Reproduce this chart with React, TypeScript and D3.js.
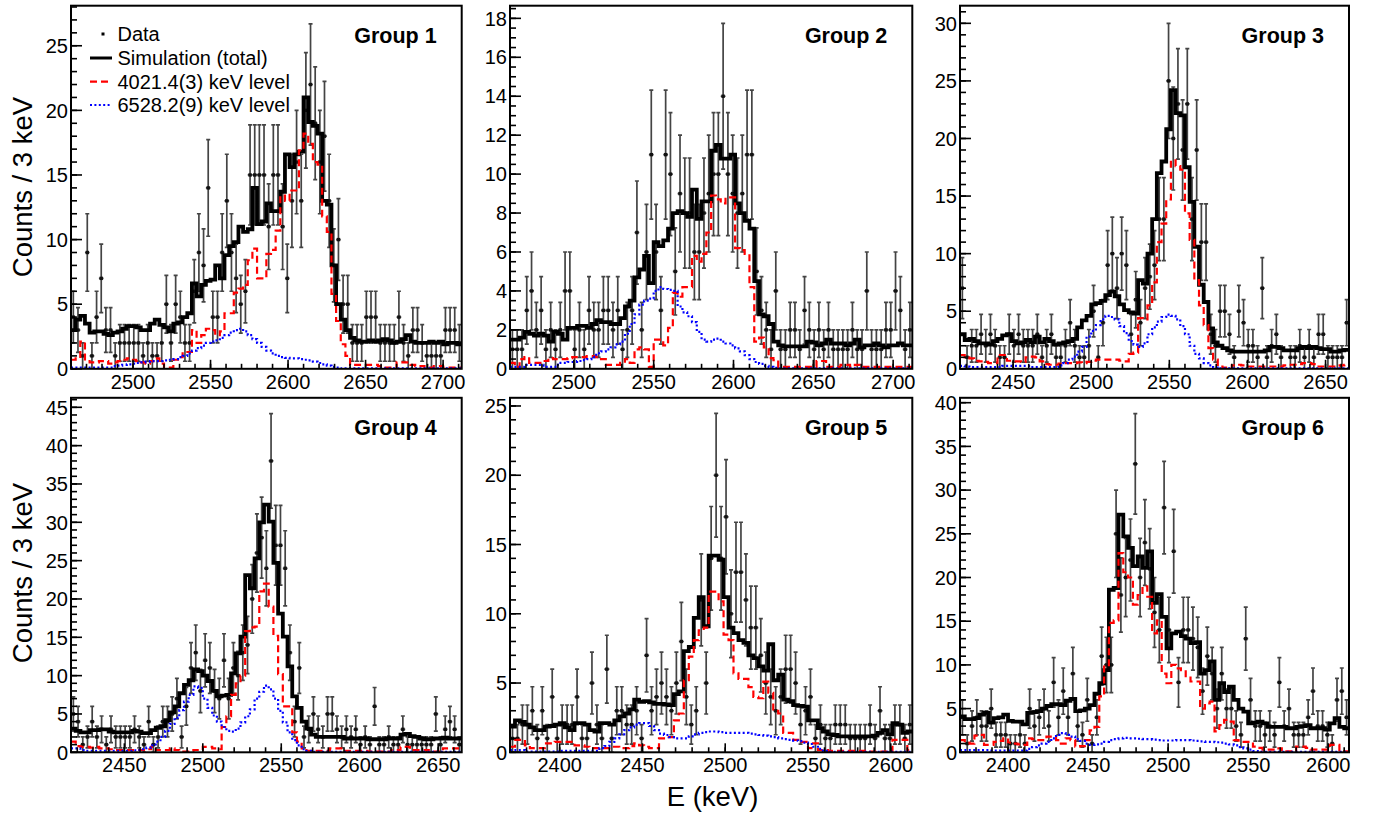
import React from 'react';
import * as d3 from 'd3';

// ---------------- data (counts per 3 keV bin) ----------------
const TITLES = ['Group 1', 'Group 2', 'Group 3', 'Group 4', 'Group 5', 'Group 6'];
const X_DOMAIN: [number, number][] = [[2460, 2712], [2460, 2712], [2416, 2665], [2416, 2665], [2370, 2613], [2370, 2613]];
const Y_MAX = [28.1, 18.65, 31.53, 46.24, 25.59, 40.56];
const Y_MAJOR = [5, 2, 5, 5, 5, 5];
const Y_MINOR = [1, 0.5, 1, 1, 1, 1];
const X_LABELS = [
  [2500, 2550, 2600, 2650, 2700],
  [2500, 2550, 2600, 2650, 2700],
  [2450, 2500, 2550, 2600, 2650],
  [2450, 2500, 2550, 2600, 2650],
  [2400, 2450, 2500, 2550, 2600],
  [2400, 2450, 2500, 2550, 2600],
];
const LEGEND_LABELS = ['Data', 'Simulation (total)', '4021.4(3) keV level', '6528.2(9) keV level'];

const G1_TOTAL = [3.0,3.8,4.1,3.5,2.8,2.9,2.9,2.7,2.6,2.8, 2.9,3.1,3.3,3.3,3.2,3.0,3.0,3.5,3.8,3.4, 3.2,2.9,3.5,3.6,4.0,4.3,6.6,5.6,6.5,6.8, 6.9,8.0,7.0,8.8,9.5,9.8,11.0,10.6,10.8,14.0, 11.2,11.4,12.8,12.2,12.2,13.7,16.6,15.6,16.6,16.8, 21.0,19.1,18.8,18.2,13.0,12.7,8.0,5.0,3.8,3.0, 2.4,2.2,2.1,2.1,2.2,2.1,2.2,2.3,2.2,2.0, 2.1,2.3,2.6,2.1,2.0,2.0,2.0,2.1,2.0,2.1, 1.9,2.0,2.0,1.9];
const G1_LOW = [0.7,0.8,2.1,0.6,0.5,0.5,0.6,0.6,0.4,0.5, 0.6,0.7,0.8,0.7,0.6,0.5,0.4,0.6,0.8,0.4, 0.1,0.1,0.7,0.9,1.3,1.3,3.0,2.0,2.6,3.1, 3.0,2.6,2.9,4.3,4.3,5.9,6.2,6.5,8.4,9.3, 7.0,7.0,8.9,9.2,10.7,13.4,13.0,13.8,13.8,16.9, 18.2,17.4,16.0,15.8,11.8,10.6,5.8,3.7,1.9,1.0, 0.3,0.3,0.3,0.3,0.3,0.3,0.2,0.1,0.1,0.1, 0.5,0.5,0.5,0.3,0.2,0.2,0.1,0.1,0.2,0.2, 0.1,0.1,0.1,0.1];
const G1_HIGH = [0.1,0.1,0.1,0.1,0.1,0.1,0.1,0.1,0.1,0.2, 0.25,0.3,0.35,0.4,0.45,0.5,0.55,0.6,0.6,0.6, 0.65,0.7,0.75,0.9,1.0,1.2,1.4,1.6,1.8,2.0, 2.1,2.2,2.4,2.6,2.8,3.0,3.1,2.9,2.6,2.3, 2.0,1.7,1.4,1.2,1.0,0.9,0.85,0.8,0.8,0.75, 0.7,0.65,0.55,0.45,0.35,0.25,0.15,0.1,0.03,0.03, 0.03,0.03,0.03,0.03,0.03,0.03,0.03,0.03,0.03,0.03, 0.03,0.03,0.03,0.03,0.03,0.03,0.03,0.03,0.03,0.03, 0.03,0.03,0.03,0.03];
const G1_DATA = [4,3,1,9,1,4,7,3,3,1, 2,2,2,2,2,1,2,1,1,2, 5,2,5,4,2,2,6,9,8,14, 4,4,9,13,9,7,5,6,15,15, 15,15,11,15,15,11,7,13,16,13, 20,22,19,16,18,13,8,10,5,5, 2,2,2,4,4,4,2,2,2,2, 4,2,1,3,3,2,1,1,1,1, 3,3,3,2];

const G2_TOTAL = [1.5,1.5,1.6,1.9,1.8,1.7,1.8,1.7,1.4,1.9, 1.8,1.5,2.1,2.1,2.2,2.2,2.1,2.3,2.5,2.4, 2.4,2.3,2.3,2.6,3.2,3.5,4.7,5.1,5.8,4.4, 6.5,6.3,6.6,7.2,8.0,8.1,8.0,7.8,9.2,7.7, 8.6,8.6,11.2,11.5,10.8,10.8,11.0,8.5,8.0,7.6, 7.2,4.5,2.8,2.7,2.3,1.4,1.2,1.15,1.15,1.15, 1.15,1.15,1.4,1.35,1.2,1.3,1.5,1.3,1.3,1.3, 1.2,1.3,1.5,1.1,1.2,1.2,1.3,1.2,1.1,1.2, 1.2,1.3,1.2,1.2];
const G2_LOW = [0.3,0.1,0.5,0.6,0.3,0.3,0.3,0.4,0.55,0.5, 0.5,0.5,0.55,0.6,0.6,0.6,0.65,0.65,0.6,0.5, 0.2,0.2,0.2,0.3,0.5,0.3,1.0,1.1,1.0,0.1, 1.5,1.5,1.2,2.1,3.9,3.7,4.2,4.2,5.8,5.5, 5.9,7.0,8.9,8.7,8.5,8.8,8.8,6.2,6.1,5.9, 4.2,1.4,1.6,1.1,0.55,0.45,0.1,0.1,0.1,0.1, 0.1,0.1,0.1,0.1,0.4,0.4,0.1,0.1,0.1,0.2, 0.2,0.1,0.2,0.1,0.1,0.1,0.1,0.1,0.1,0.1, 0.1,0.1,0.1,0.1];
const G2_HIGH = [0.1,0.1,0.1,0.2,0.2,0.2,0.2,0.1,0.1,0.1, 0.3,0.3,0.35,0.35,0.4,0.45,0.5,0.6,0.8,0.9, 1.0,1.1,1.25,1.4,1.8,2.3,2.8,3.3,3.5,3.6, 4.0,4.2,4.1,4.05,4.0,3.2,2.9,2.7,2.4,1.9, 1.5,1.4,1.5,1.55,1.4,1.3,1.2,1.05,0.9,0.7, 0.5,0.35,0.25,0.15,0.1,0.05,0.02,0.02,0.02,0.02, 0.02,0.02,0.02,0.02,0.02,0.02,0.02,0.02,0.02,0.02, 0.02,0.02,0.02,0.02,0.02,0.02,0.02,0.02,0.02,0.02, 0.02,0.02,0.02,0.02];
const G2_DATA = [1,1,1,3,4,2,3,1,2,1, 2,4,4,1,2,1,3,2,2,3, 3,2,3,1,2,3,7,2,6,11, 6,3,11,10,5,9,8,8,6,6, 8,9,10,10,14,10,9,8,9,11, 11,5,3,2,1,4,1,1,2,2, 1,3,2,1,2,1,2,1,1,1, 1,2,1,1,4,1,1,1,2,2, 4,3,1,2];

const G3_TOTAL = [3.0,2.5,2.6,2.4,2.2,2.2,2.1,2.4,2.6,2.9, 3.0,2.4,2.2,2.3,2.5,2.3,2.8,2.3,2.6,2.4, 2.1,2.2,2.3,2.4,2.6,3.6,4.2,4.6,5.6,5.7, 5.9,6.4,6.7,6.3,5.6,5.1,4.9,4.8,7.7,7.4, 10.0,13.0,17.0,18.0,20.8,24.2,22.2,22.0,17.5,14.5, 10.6,7.3,5.8,3.5,2.3,2.0,1.8,1.6,1.5,1.5, 1.5,1.5,1.5,1.5,1.5,1.6,1.9,1.9,1.8,1.6, 1.6,1.6,1.8,1.9,1.8,1.9,1.8,1.7,1.7,1.5, 1.5,1.6,1.65];
const G3_LOW = [1.2,1.0,0.9,0.7,0.65,0.6,0.5,0.5,1.2,1.2, 0.7,0.65,0.65,0.6,1.0,1.05,1.0,0.65,0.4,0.35, 0.35,0.45,0.5,0.5,0.5,0.55,0.5,0.6,0.7,0.8, 0.8,0.8,0.8,0.8,0.7,0.65,1.3,1.4,4.4,4.3, 5.5,7.5,11.0,12.6,14.7,18.1,17.6,17.3,13.5,11.2, 7.7,5.5,3.8,1.8,0.8,0.2,0.1,0.05,0.3,0.35, 0.3,0.2,0.2,0.2,0.2,0.2,0.2,0.2,0.2,0.3, 0.35,0.35,0.4,0.5,0.5,0.4,0.2,0.2,0.2,0.2, 0.2,0.3,0.35];
const G3_HIGH = [0.25,0.2,0.15,0.15,0.15,0.15,0.15,0.15,0.15,0.25, 0.25,0.25,0.25,0.25,0.25,0.15,0.15,0.15,0.15,0.15, 0.15,0.3,0.5,0.8,1.05,1.5,1.9,2.8,3.3,3.8, 4.3,4.6,4.5,4.3,3.7,3.1,2.4,2.1,1.9,2.2, 3.0,3.6,4.1,4.5,4.7,4.6,4.3,3.7,3.0,2.0, 1.3,0.9,0.5,0.3,0.1,0.03,0.03,0.03,0.03,0.03, 0.03,0.03,0.03,0.03,0.03,0.03,0.03,0.03,0.03,0.03, 0.03,0.03,0.03,0.03,0.03,0.03,0.03,0.03,0.03,0.03, 0.03,0.03,0.03];
const G3_DATA = [7,1,2,2,3,2,3,2,1,1, 3,2,3,2,2,2,3,1,2,3, 1,1,2,4,2,1,1,2,5,1, 4,9,10,7,10,9,3,6,4,7, 8,9,13,13,25,20,23,19,23,13, 19,11,11,3,2,5,5,3,1,5, 4,2,2,1,7,1,2,3,1,0, 1,1,2,1,2,1,3,3,1,1, 1,1,4];

const G4_TOTAL = [3.1,2.8,2.6,2.6,2.9,2.9,3.0,3.0,2.7,2.6, 2.6,2.6,2.6,2.8,2.7,2.5,2.5,2.9,3.2,3.4, 4.2,5.2,6.0,7.7,8.8,9.4,10.8,10.6,10.0,9.3, 8.0,7.3,7.4,7.5,10.3,12.9,15.1,23.1,21.4,25.3, 30.0,32.3,30.1,24.7,18.1,15.1,11.2,7.3,5.8,4.0, 3.1,2.3,2.0,2.0,2.0,2.0,2.0,2.0,1.8,1.8, 1.8,1.8,1.8,1.7,1.7,1.7,1.7,1.8,1.8,1.8, 2.3,2.4,2.1,2.0,1.8,1.7,1.7,1.8,1.8,1.9, 1.8,1.8,1.8];
const G4_LOW = [1.4,0.8,0.7,0.7,0.6,0.7,0.5,0.5,0.4,0.3, 0.3,0.3,0.3,0.3,0.3,0.3,0.4,0.7,0.3,0.3, 0.3,0.5,0.3,0.1,0.1,0.1,0.3,0.3,0.7,0.7, 0.5,0.4,3.3,4.7,7.5,9.0,10.0,15.8,16.3,16.4, 21.0,22.0,19.0,15.2,10.2,6.0,6.0,2.6,1.4,0.5, 0.2,0.2,0.2,0.2,0.2,0.5,0.5,0.5,0.2,0.2, 0.2,0.2,0.2,0.1,0.1,0.1,0.1,0.1,0.3,0.3, 0.7,0.7,0.3,0.3,0.3,0.3,0.1,0.1,0.1,0.5, 0.5,0.5,0.5];
const G4_HIGH = [0.5,0.5,0.3,0.2,0.2,0.2,0.2,0.2,0.2,0.2, 0.2,0.2,0.2,0.25,0.3,0.4,0.6,0.9,1.4,2.0, 2.8,3.7,4.5,5.5,6.6,7.5,8.6,8.4,7.0,5.8, 4.8,4.0,3.3,2.8,2.7,3.1,3.9,4.7,5.6,7.0, 7.9,8.7,8.2,7.0,5.4,3.9,2.6,1.6,0.9,0.4, 0.2,0.05,0.05,0.05,0.05,0.05,0.05,0.05,0.05,0.05, 0.05,0.05,0.05,0.05,0.05,0.05,0.05,0.05,0.05,0.05, 0.05,0.05,0.05,0.05,0.05,0.05,0.05,0.05,0.05,0.05, 0.05,0.05,0.05];
const G4_DATA = [5,4,1,2,4,2,3,1,3,2, 2,2,2,3,2,1,4,1,2,4, 4,5,7,2,6,11,13,8,12,11, 8,7,12,7,11,10,13,14,20,26, 28,24,38,27,27,24,13,4,11,2, 3,5,3,2,5,5,3,2,3,2, 3,1,2,1,6,1,1,2,1,1, 3,1,1,1,1,1,1,5,1,3, 4,3,1];

const G5_TOTAL = [1.85,2.3,2.2,2.0,1.8,1.6,1.6,1.85,1.9,2.0, 2.1,1.8,1.6,2.1,2.1,2.0,1.6,1.5,2.1,2.1, 2.0,2.3,2.6,2.8,3.1,3.8,3.65,3.7,3.6,3.5, 3.5,3.45,3.4,4.2,4.4,7.3,7.6,9.7,11.2,9.1, 14.2,14.2,13.9,11.2,9.0,8.6,8.1,7.9,7.0,6.8, 6.2,5.9,7.8,5.2,5.6,3.8,3.7,3.4,3.35,3.3, 2.3,2.3,1.75,1.5,1.3,1.25,1.15,1.15,1.15,1.15, 1.15,1.15,1.15,1.2,1.4,1.6,1.3,2.1,2.0,1.4, 1.5];
const G5_LOW = [0.4,0.9,0.9,0.5,0.3,0.3,0.3,0.65,0.65,0.75, 0.75,0.75,0.75,0.5,0.5,0.4,0.3,0.3,0.3,0.3, 0.4,0.4,0.3,0.3,0.45,0.65,0.5,0.4,0.3,0.3, 1.0,1.1,1.1,2.3,2.8,5.2,6.9,8.1,8.8,9.0, 11.6,11.6,10.9,8.5,8.1,5.7,5.3,5.3,4.7,4.0, 3.9,5.1,4.3,3.0,2.8,1.4,1.4,0.9,0.75,0.75, 0.3,0.65,0.15,0.15,0.1,0.1,0.1,0.1,0.1,0.1, 0.1,0.1,0.05,0.05,0.05,0.05,0.05,0.9,0.9,0.9, 0.15];
const G5_HIGH = [0.15,0.15,0.15,0.05,0.05,0.05,0.05,0.05,0.05,0.05, 0.1,0.1,0.1,0.1,0.1,0.1,0.1,0.1,0.3,0.45, 0.75,1.0,1.3,1.6,1.8,2.0,2.1,2.1,1.9,1.6, 1.35,1.25,1.1,1.0,1.0,1.0,1.15,1.3,1.4,1.45, 1.5,1.5,1.45,1.4,1.4,1.4,1.4,1.4,1.35,1.3, 1.25,1.2,1.15,1.1,1.0,0.95,0.9,0.85,0.8,0.7, 0.6,0.4,0.25,0.1,0.03,0.03,0.03,0.03,0.03,0.03, 0.03,0.03,0.03,0.03,0.03,0.03,0.03,0.03,0.03,0.03, 0.03];
const G5_DATA = [1,1,2,2,3,1,3,1,4,1, 2,2,2,4,1,1,5,2,1,6, 1,3,3,2,2,3,1,7,3,4, 5,4,3,5,8,4,2,3,11,5, 14,20,14,17,10,13,13,11,9,9, 7,5,4,3,4,6,6,5,2,3, 4,1,2,1,1,2,2,2,1,1, 1,1,2,1,3,1,1,2,2,1, 2];

const G6_TOTAL = [4.1,3.8,3.8,3.9,4.3,4.5,3.4,3.9,4.0,4.3, 3.6,3.5,3.5,3.2,4.5,4.6,4.7,5.0,5.3,5.5, 5.5,5.4,5.9,6.1,4.7,4.8,5.0,5.4,6.7,7.9, 9.4,18.6,18.8,27.2,24.7,23.4,21.3,22.4,21.1,23.0, 17.1,18.1,15.5,11.9,13.6,13.8,13.3,13.0,12.5,12.6, 9.0,9.4,10.4,6.0,7.9,6.9,7.5,6.0,5.0,4.65, 3.3,3.4,3.5,3.3,2.9,2.9,2.9,2.9,2.75,2.75, 2.9,3.0,3.1,2.75,2.75,2.75,2.6,3.3,3.9,2.9, 2.75];
const G6_LOW = [1.4,1.1,1.0,1.9,2.0,0.85,0.85,1.2,1.3,1.6, 1.1,1.0,0.9,0.85,1.6,1.5,1.4,1.4,1.8,1.8, 1.4,1.0,1.6,1.4,0.65,0.7,1.4,2.5,2.9,6.4, 9.8,14.8,15.1,22.8,20.6,20.0,16.9,18.0,19.0,17.8, 13.6,15.1,9.0,7.9,10.0,9.6,9.4,8.7,8.1,8.1, 5.0,5.6,5.8,2.4,3.1,3.7,3.5,1.4,1.2,1.2, 1.2,0.65,0.5,0.3,0.3,0.3,0.45,0.1,0.1,0.1, 0.65,0.65,0.5,0.3,0.3,0.3,0.3,0.85,0.85,0.1, 0.1];
const G6_HIGH = [0.25,0.25,0.25,0.25,0.25,0.25,0.2,0.2,0.2,0.2, 0.2,0.2,0.2,0.2,0.4,0.6,0.8,1.0,1.2,1.6, 2.0,2.2,2.0,1.8,1.5,1.3,1.0,0.85,0.9,1.0, 1.2,1.4,1.5,1.6,1.65,1.6,1.6,1.55,1.5,1.5, 1.45,1.4,1.35,1.35,1.35,1.4,1.4,1.4,1.35,1.3, 1.25,1.2,1.2,1.15,1.1,1.0,0.9,0.8,0.6,0.45, 0.3,0.15,0.05,0.05,0.05,0.05,0.05,0.05,0.05,0.05, 0.05,0.05,0.05,0.05,0.05,0.05,0.05,0.05,0.05,0.05, 0.05];
const G6_DATA = [4,1,3,4,3,3,5,2,2,2, 1,1,2,1,5,3,4,5,3,8, 4,7,4,9,3,2,6,1,4,11, 10,10,25,18,20,22,33,20,24,21, 16,14,28,14,23,8,14,14,13,12, 7,11,9,5,9,5,5,3,2,13, 6,3,3,2,3,2,8,3,5,2, 2,2,4,7,3,3,2,1,6,7, 4];

const TOTALS = [G1_TOTAL, G2_TOTAL, G3_TOTAL, G4_TOTAL, G5_TOTAL, G6_TOTAL];
const LOWS = [G1_LOW, G2_LOW, G3_LOW, G4_LOW, G5_LOW, G6_LOW];
const HIGHS = [G1_HIGH, G2_HIGH, G3_HIGH, G4_HIGH, G5_HIGH, G6_HIGH];
const DATAS = [G1_DATA, G2_DATA, G3_DATA, G4_DATA, G5_DATA, G6_DATA];
const BIN = 3;

// ---------------- layout / style ----------------
const W = 1376, H = 816;
const FONT = "'Liberation Sans', Arial, Helvetica, sans-serif";
const FRAMES = [
  { left: 71, top: 5.7, right: 461.7, bottom: 368.8 },
  { left: 510, top: 5.7, right: 912.3, bottom: 368.8 },
  { left: 960, top: 5.7, right: 1349, bottom: 368.8 },
  { left: 71, top: 397.8, right: 461.7, bottom: 752.3 },
  { left: 510, top: 397.8, right: 912.3, bottom: 752.3 },
  { left: 960, top: 397.8, right: 1349, bottom: 752.3 },
];

function Panel({ idx }: { idx: number }) {
  const F = FRAMES[idx];
  const [x0, x1] = X_DOMAIN[idx];
  const ymax = Y_MAX[idx];
  const x = d3.scaleLinear().domain([x0, x1]).range([F.left, F.right]);
  const y = d3.scaleLinear().domain([0, ymax]).range([F.bottom, F.top]);
  const total = TOTALS[idx];
  const n = total.length;
  const edges = d3.range(n + 1).map((i) => x0 + BIN * i);
  const stepPath = (vals: number[]) =>
    d3.line<[number, number]>().curve(d3.curveStepAfter)(
      edges.map((e, i) => [x(e), y(vals[Math.min(i, n - 1)])] as [number, number])
    ) || '';
  const clipId = `clip${idx}`;

  const yMajors = d3.range(0, ymax + 1e-6, Y_MAJOR[idx]);
  const yMinors = d3.range(0, ymax + 1e-6, Y_MINOR[idx]);
  const xMinors = d3.range(Math.ceil(x0 / 10) * 10, x1 + 1e-6, 10);
  const xMajors = xMinors.filter((v) => v % 50 === 0);

  return (
    <g>
      <defs>
        <clipPath id={clipId}>
          <rect x={F.left} y={F.top} width={F.right - F.left} height={F.bottom - F.top} />
        </clipPath>
      </defs>
      <g clipPath={`url(#${clipId})`}>
        {DATAS[idx].map((v, i) => {
          if (v <= 0) return null;
          const cx = x(x0 + BIN * i + BIN / 2);
          const e = Math.sqrt(v);
          const yt = y(Math.min(v + e, ymax));
          const yb = y(Math.max(v - e, 0));
          const cy = y(v);
          return (
            <g key={i} stroke="#444" strokeWidth={1.7}>
              <line x1={x(edges[i])} x2={x(edges[i + 1])} y1={cy} y2={cy} />
              <line x1={cx} x2={cx} y1={yt} y2={yb} />
              <line x1={cx - 2} x2={cx + 2} y1={yt} y2={yt} />
              <line x1={cx - 2} x2={cx + 2} y1={yb} y2={yb} />
              <rect x={cx - 1.7} y={cy - 1.7} width={3.4} height={3.4} fill="#111" stroke="none" />
            </g>
          );
        })}
        <path d={stepPath(total)} fill="none" stroke="#000" strokeWidth={3.8} strokeLinejoin="miter" />
        <path d={stepPath(LOWS[idx])} fill="none" stroke="#ff0000" strokeWidth={2.2} strokeDasharray="7,4" />
        <path d={stepPath(HIGHS[idx])} fill="none" stroke="#0000ff" strokeWidth={2.2} strokeDasharray="2,2.4" />
      </g>
      <g stroke="#000" strokeWidth={1.6}>
        {yMinors.map((v) => (
          <line key={'ym' + v} x1={F.left} x2={F.left + 6} y1={y(v)} y2={y(v)} />
        ))}
        {yMajors.map((v) => (
          <line key={'yM' + v} x1={F.left} x2={F.left + 11} y1={y(v)} y2={y(v)} />
        ))}
        {xMinors.map((v) => (
          <line key={'xm' + v} x1={x(v)} x2={x(v)} y1={F.bottom} y2={F.bottom - 5} />
        ))}
        {xMajors.map((v) => (
          <line key={'xM' + v} x1={x(v)} x2={x(v)} y1={F.bottom} y2={F.bottom - 9} />
        ))}
      </g>
      <rect x={F.left} y={F.top} width={F.right - F.left} height={F.bottom - F.top} fill="none" stroke="#000" strokeWidth={2} />
      <g fontFamily={FONT} fontSize={20} fill="#000">
        {yMajors.map((v) => (
          <text key={'yl' + v} x={F.left - 3} y={y(v)} dy="0.36em" textAnchor="end">
            {v}
          </text>
        ))}
        {X_LABELS[idx].map((v) => (
          <text key={'xl' + v} x={x(v)} y={F.bottom + 20} textAnchor="middle">
            {v}
          </text>
        ))}
      </g>
      <text x={F.right - 25} y={F.top + 37.5} textAnchor="end" fontFamily={FONT} fontSize={21.5} fontWeight="bold">
        {TITLES[idx]}
      </text>
    </g>
  );
}

function Legend() {
  const rows = [34, 58, 81.7, 105];
  const lx0 = 90, lx1 = 112, tx = 117.5;
  return (
    <g fontFamily={FONT} fontSize={20}>
      <rect x={101.5} y={rows[0] - 1.5} width={3} height={3} fill="#000" />
      <line x1={lx0} x2={lx1} y1={rows[1]} y2={rows[1]} stroke="#000" strokeWidth={3} />
      <line x1={lx0} x2={lx1} y1={rows[2]} y2={rows[2]} stroke="#ff0000" strokeWidth={2.2} strokeDasharray="7,4" />
      <line x1={lx0} x2={lx1} y1={rows[3]} y2={rows[3]} stroke="#0000ff" strokeWidth={2.2} strokeDasharray="2,2.4" />
      {LEGEND_LABELS.map((t, i) => (
        <text key={t} x={tx} y={rows[i]} dy="0.36em">
          {t}
        </text>
      ))}
    </g>
  );
}

export default function App() {
  return (
    <svg
      width={W}
      height={H}
      viewBox={`0 0 ${W} ${H}`}
      style={{ position: 'absolute', left: 0, top: 0, display: 'block', background: '#fff' }}
    >
      <rect x={0} y={0} width={W} height={H} fill="#fff" />
      {[0, 1, 2, 3, 4, 5].map((i) => (
        <Panel key={i} idx={i} />
      ))}
      <Legend />
      <text transform="translate(32,187) rotate(-90)" textAnchor="middle" fontFamily={FONT} fontSize={27.5}>
        Counts / 3 keV
      </text>
      <text transform="translate(32,573) rotate(-90)" textAnchor="middle" fontFamily={FONT} fontSize={27.5}>
        Counts / 3 keV
      </text>
      <text x={712.5} y={806} textAnchor="middle" fontFamily={FONT} fontSize={27.5}>
        E (keV)
      </text>
    </svg>
  );
}
